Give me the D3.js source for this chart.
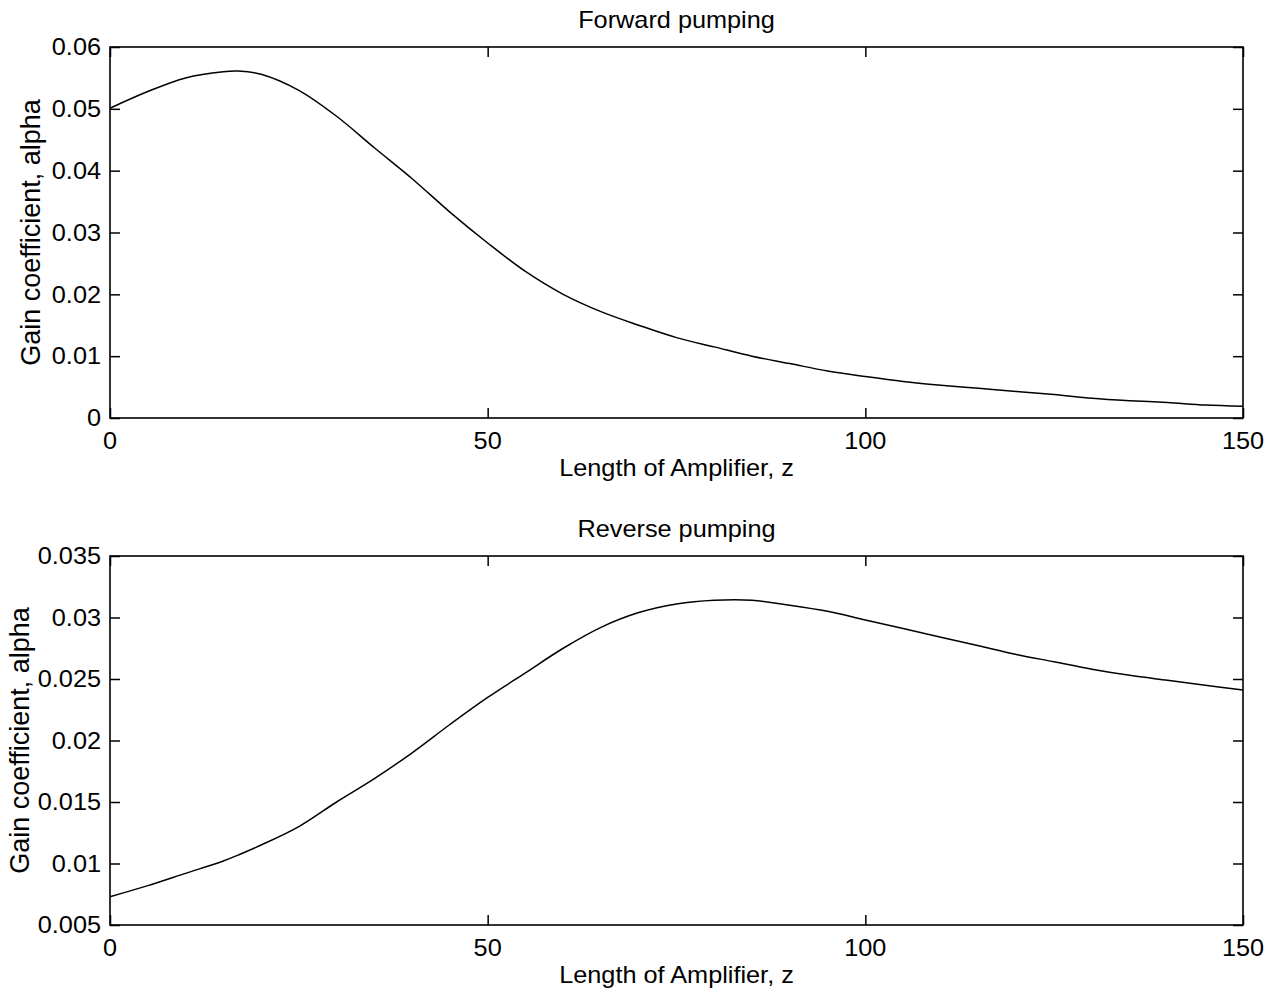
<!DOCTYPE html>
<html><head><meta charset="utf-8">
<script src="https://cdn.jsdelivr.net/npm/d3@7"></script>
<style>body{margin:0;background:#fff}svg{display:block}text{font-family:"Liberation Sans",Arial,sans-serif;fill:#000}</style>
</head><body><svg id="c" width="1278" height="998"></svg>
<script>
const zValues = [0,5,10,15,17,20,25,30,35,40,45,50,55,60,65,70,75,80,85,90,95,100,105,110,115,120,125,130,135,140,145,150];
const forwardAlpha = [0.0501,0.0528,0.0550,0.0560,0.0561,0.0556,0.0530,0.0488,0.0437,0.0387,0.0333,0.0283,0.0237,0.0200,0.0172,0.0150,0.0130,0.0115,0.0100,0.0088,0.0076,0.0067,0.0059,0.0053,0.0048,0.0043,0.0038,0.0032,0.0028,0.0025,0.0021,0.0019];
const reverseAlpha = [0.0073,0.0082,0.0092,0.0102,0.0107,0.0115,0.0130,0.0150,0.0169,0.0190,0.0213,0.0235,0.0255,0.0275,0.0292,0.0304,0.0311,0.0314,0.0314,0.0310,0.0305,0.0298,0.0291,0.0284,0.0277,0.0270,0.0264,0.0258,0.0253,0.0249,0.0245,0.0241];
const xTicks = [0,50,100,150];
const forwardYTicks = [0,0.01,0.02,0.03,0.04,0.05,0.06];
const forwardYLabels = ["0","0.01","0.02","0.03","0.04","0.05","0.06"];
const reverseYTicks = [0.005,0.01,0.015,0.02,0.025,0.03,0.035];
const reverseYLabels = ["0.005","0.01","0.015","0.02","0.025","0.03","0.035"];
const titles = ["Forward pumping","Reverse pumping"];
const xLabel = "Length of Amplifier, z";
const yLabel = "Gain coefficient, alpha";

const svg = d3.select("#c");
const SX = 1.1, FS = 23, FY = 27;

function htext(g, x, y, str, anchor, dy) {
  g.append("text").attr("transform", `translate(${x},${y}) scale(${SX},1)`)
    .attr("text-anchor", anchor).attr("dy", dy || 0).attr("font-size", FS).text(str);
}

function panel(cfg) {
  const {left, right, top, bottom, ydom, yticks, ylabels, values, title, ylabX} = cfg;
  const x = d3.scaleLinear().domain([0,150]).range([left, right]);
  const y = d3.scaleLinear().domain(ydom).range([bottom, top]);
  const g = svg.append("g");
  const tl = 10;
  const ax = [
    [d3.axisBottom(x).tickValues(xTicks).tickSize(-tl).tickFormat(""), `translate(0,${bottom})`],
    [d3.axisTop(x).tickValues(xTicks).tickSize(-tl).tickFormat(""), `translate(0,${top})`],
    [d3.axisLeft(y).tickValues(yticks).tickSize(-tl).tickFormat(""), `translate(${left},0)`],
    [d3.axisRight(y).tickValues(yticks).tickSize(-tl).tickFormat(""), `translate(${right},0)`]
  ];
  ax.forEach(([a,t]) => {
    const s = g.append("g").attr("transform", t).call(a);
    s.select(".domain").remove();
    s.selectAll("line").attr("stroke","#000").attr("stroke-width",1.5);
  });
  g.append("rect").attr("x",left).attr("y",top).attr("width",right-left).attr("height",bottom-top)
    .attr("fill","none").attr("stroke","#000").attr("stroke-width",1.6);
  xTicks.forEach(v => htext(g, x(v), bottom + 31, String(v), "middle"));
  yticks.forEach((v,i) => htext(g, left - 9, y(v), ylabels[i], "end", "0.36em"));
  const line = d3.line().x((d,i)=>x(zValues[i])).y(d=>y(d)).curve(d3.curveCatmullRom.alpha(0.5));
  g.append("path").datum(values).attr("d", line).attr("fill","none").attr("stroke","#000").attr("stroke-width",1.5);
  htext(g, (left+right)/2, top - 19, title, "middle");
  htext(g, (left+right)/2, bottom + 58, xLabel, "middle");
  g.append("text").attr("transform", `translate(${ylabX},${(top+bottom)/2}) rotate(-90)`)
    .attr("text-anchor","middle").attr("font-size", FY).text(yLabel);
}

panel({left:110, right:1243, top:47, bottom:418, ydom:[0,0.06], yticks:forwardYTicks, ylabels:forwardYLabels, values:forwardAlpha, title:titles[0], ylabX:40});
panel({left:110, right:1243, top:556, bottom:925, ydom:[0.005,0.035], yticks:reverseYTicks, ylabels:reverseYLabels, values:reverseAlpha, title:titles[1], ylabX:29});
</script></body></html>
